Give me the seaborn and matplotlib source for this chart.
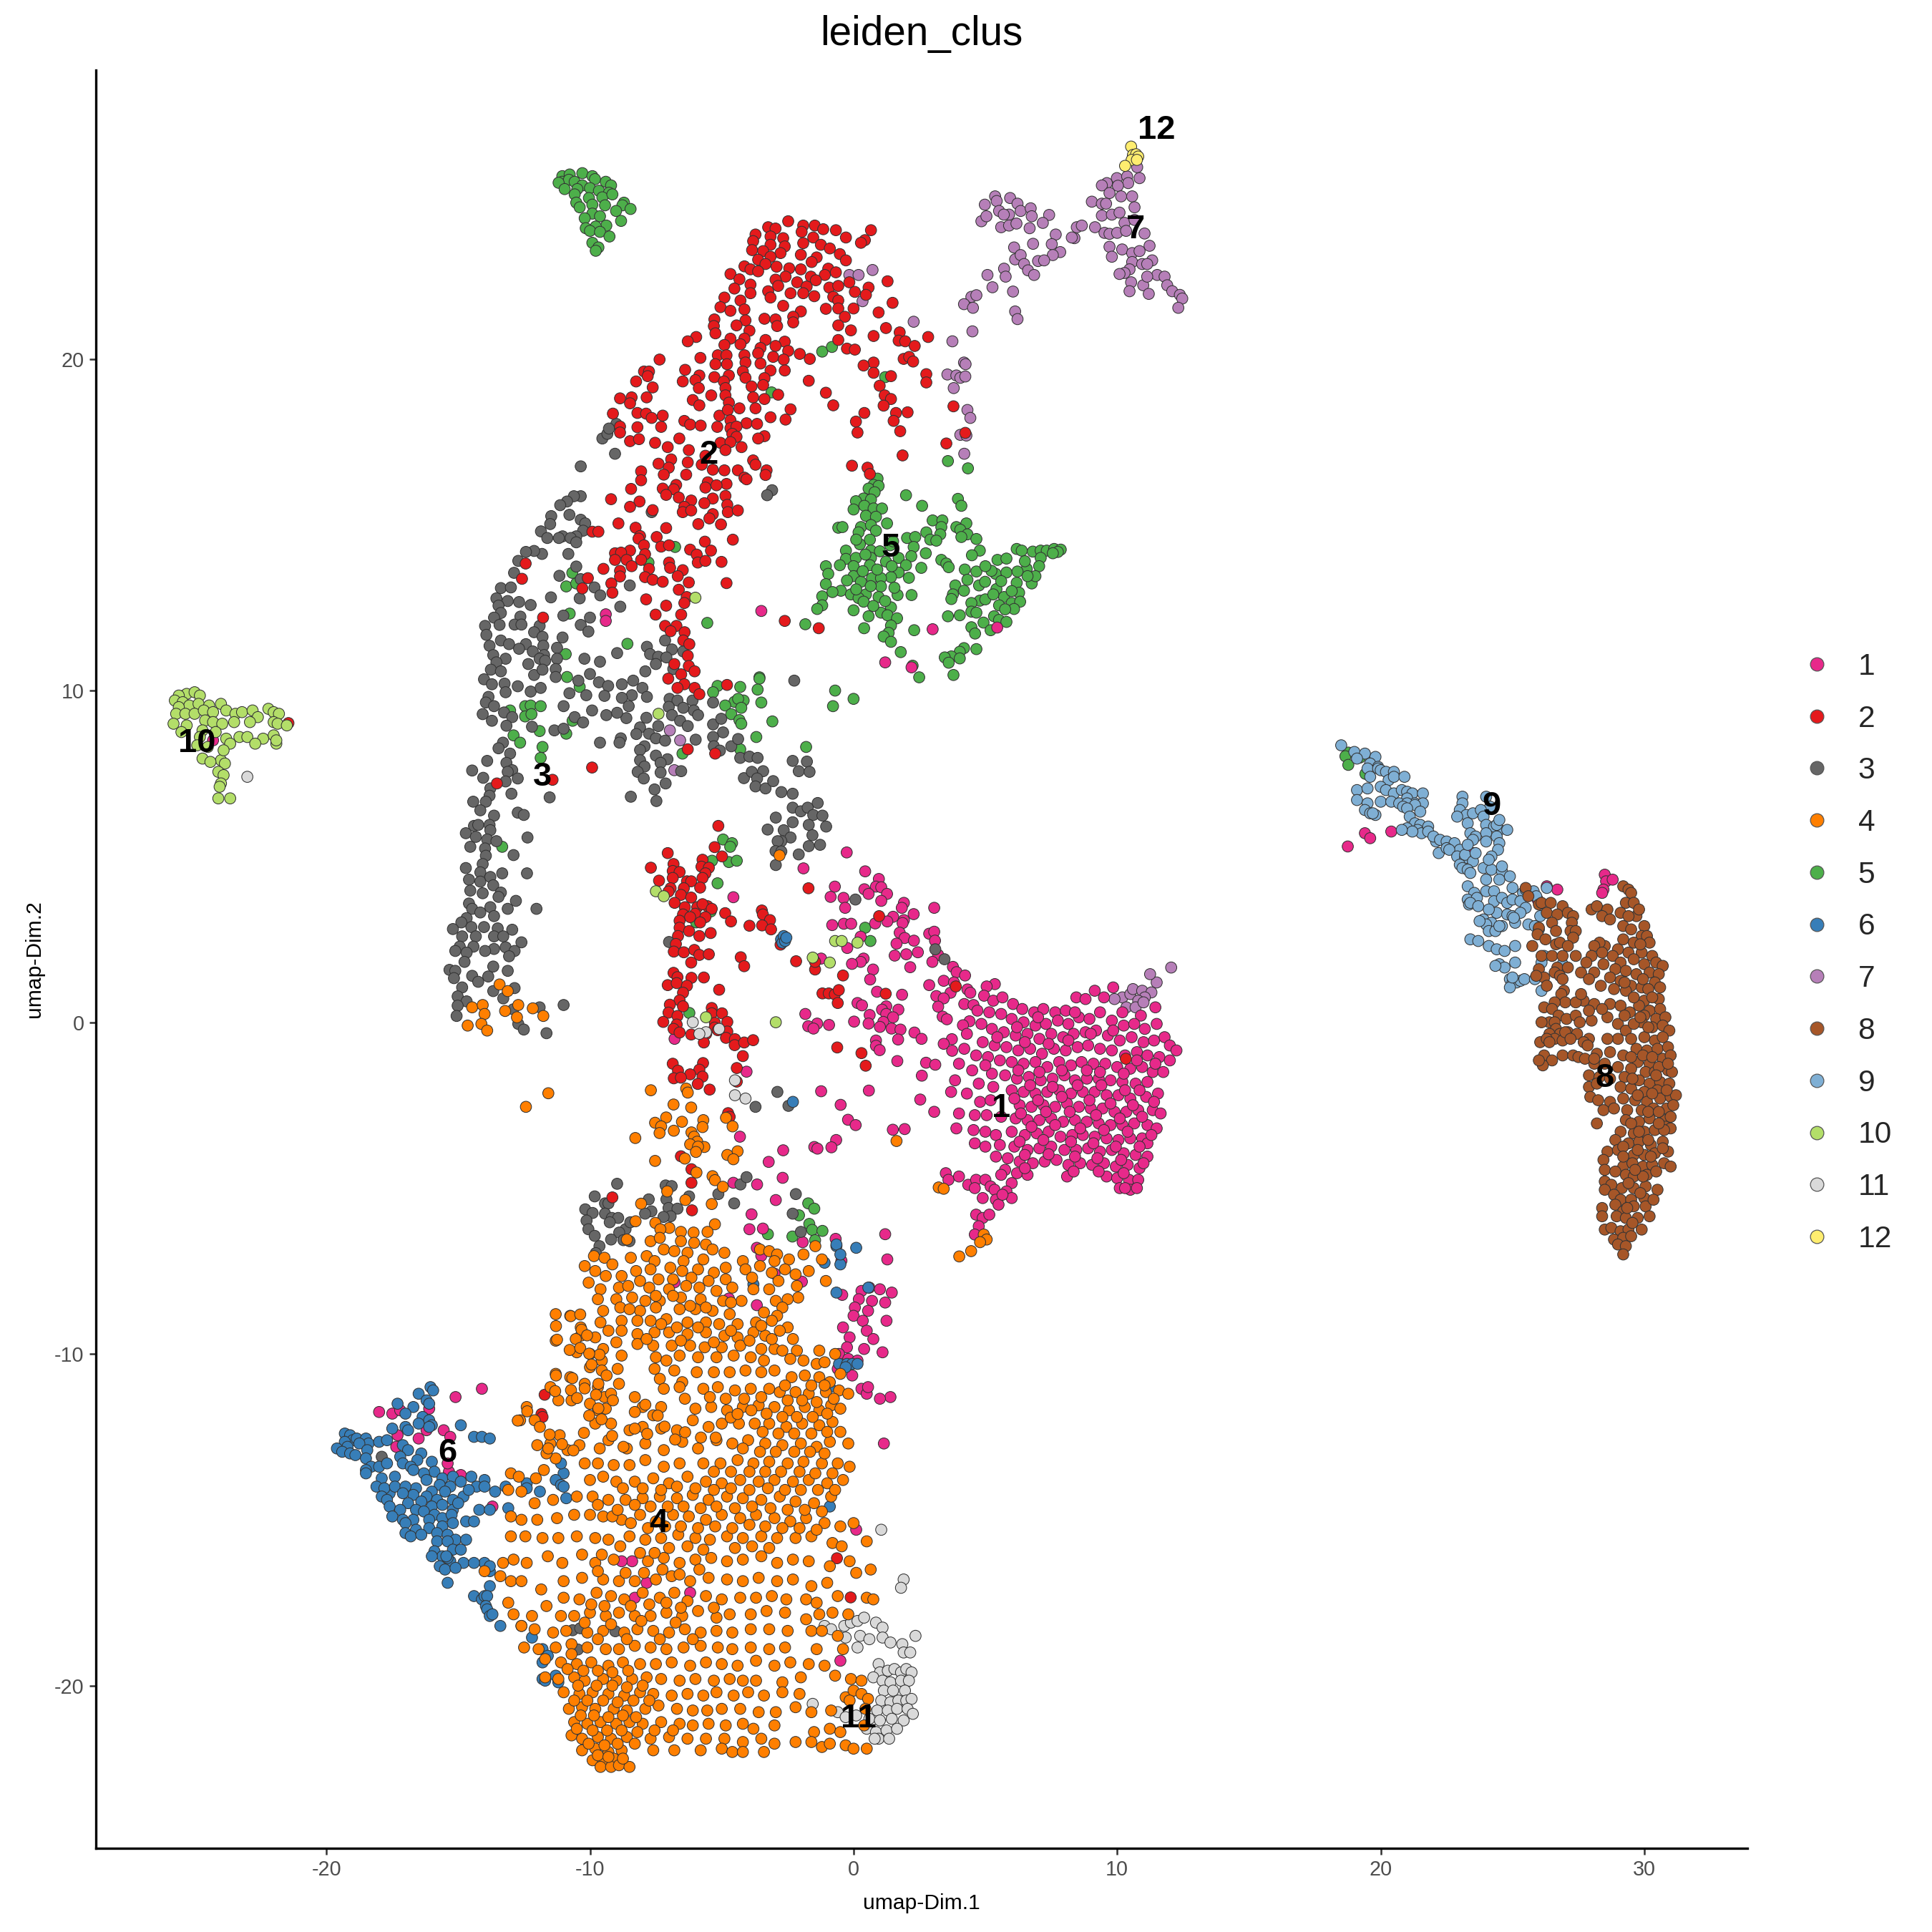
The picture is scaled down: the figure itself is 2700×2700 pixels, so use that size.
import matplotlib
matplotlib.use("Agg")
import matplotlib.pyplot as plt
import pandas as pd
import seaborn as sns

c7 = [(5.37,24.9),(5.43,24.76),(4.98,24.65),(5.94,24.85),(6.22,24.68),(5.52,24.46),(5.9,24.35),(5.7,24.35),(4.85,24.15),(5.04,24.3),(5.6,23.97),(5.9,24.02),(6.34,24.46),(6.72,24.54),(6.76,24.3),(7.42,24.34),(7.18,24.1),(6.68,23.94),(6.18,24.08),(7.67,23.75),(6.09,23.36),(6.81,23.47),(7.52,23.46),(7.84,23.22),(7.56,23.13),(6.13,23.0),(7.0,22.95),(7.23,22.97),(6.34,23.13),(6.47,22.86),(5.71,22.72),(6.62,22.67),(6.85,22.53),(5.08,22.53),(5.77,22.48),(5.27,22.16),(6.05,22.03),(4.47,21.87),(4.66,21.92),(4.19,21.65),(4.53,21.54),(6.13,21.43),(6.22,21.2),(4.51,20.83),(2.28,21.12),(3.75,20.53),(4.19,19.89),(4.25,19.84),(3.56,19.53),(3.9,19.5),(4.05,19.43),(4.24,19.47),(3.8,19.12),(4.32,18.46),(4.43,18.22),(4.05,17.71),(4.28,17.69),(4.2,17.14),(-0.16,22.53),(0.19,22.53),(0.72,22.68),(0.34,21.74),
(8.38,23.64),(8.47,23.97),(8.66,24.02),(8.28,23.66),(9.16,23.97),(9.04,24.74),(9.42,24.68),(9.61,25.3),(9.42,25.23),(9.99,25.45),(10.38,25.5),(10.76,25.78),(10.85,25.45),(10.42,25.3),(10.03,25.22),(9.71,25.0),(10.15,24.9),(10.57,24.9),(9.58,24.68),(10.66,24.57),(9.42,24.32),(9.8,24.35),(10.09,24.41),(9.52,23.8),(9.71,23.77),(10.28,24.1),(10.0,23.8),(10.34,23.86),(11.04,23.78),(10.66,24.19),(9.71,23.38),(10.19,23.3),(11.23,23.41),(9.8,23.08),(10.57,23.19),(10.85,23.25),(10.57,22.92),(10.95,22.86),(11.33,22.97),(10.47,22.7),(11.14,22.86),(10.28,22.59),(10.09,22.56),(10.53,22.31),(10.99,22.22),(11.52,22.53),(11.14,22.48),(11.8,22.48),(11.9,22.22),(10.47,22.04),(11.2,21.96),(12.09,22.04),(12.38,21.93),(12.47,21.82),(12.32,21.54),
(10.2,0.75),(10.5,0.85),(10.6,1.0),(10.95,0.95),(11.5,1.2),(12.05,1.65),(11.3,0.9),(11.25,1.45),(11.05,0.75),(10.8,0.65),(10.35,0.45),(9.9,0.7),(10.7,0.45),(11.0,0.6),(-6.97,8.8),(-6.58,8.5),(-6.8,7.6)]
c12 = [(10.53,26.4),(10.6,26.15),(10.72,26.17),(10.8,26.1),(10.55,26.0),(10.75,26.0),(10.3,25.82)]
c5 = [(-11.05,25.51),(-10.77,25.56),(-10.29,25.6),(-9.91,25.51),(-11.05,25.34),(-10.8,25.4),(-9.81,25.42),(-11.19,25.31),(-10.58,25.34),(-10.29,25.23),(-9.4,25.34),(-9.2,25.23),(-10.96,25.12),(-10.48,25.12),(-10.0,25.15),(-9.66,25.07),(-9.28,25.01),(-10.58,24.96),(-10.04,24.85),(-9.53,24.87),(-9.15,24.96),(-10.52,24.71),(-9.91,24.65),(-9.43,24.63),(-8.71,24.71),(-8.77,24.63),(-8.46,24.52),(-10.39,24.57),(-9.01,24.46),(-9.91,24.38),(-9.62,24.3),(-8.82,24.16),(-10.2,24.24),(-9.38,24.02),(-9.78,23.99),(-10.16,23.94),(-10.0,23.86),(-9.62,23.83),(-9.26,23.69),(-9.91,23.5),(-9.68,23.36),(-9.78,23.26),
(0.91,16.39),(0.76,16.2),(0.95,16.17),(0.57,16.09),(0.8,15.98),(1.99,15.89),(3.96,15.78),(0.38,15.79),(0.09,15.71),(0.66,15.76),(4.09,15.57),(2.6,15.57),(0.41,15.57),(0.0,15.46),(0.76,15.49),(1.08,15.49),(0.47,15.27),(0.85,15.24),(3.0,15.13),(3.37,15.13),(-0.58,14.91),(-0.42,14.93),(0.28,14.93),(0.66,14.99),(1.27,15.04),(4.28,15.04),(3.33,14.93),(3.9,14.93),(4.05,14.85),(0.19,14.77),(0.85,14.82),(2.76,14.77),(3.29,14.71),(4.32,14.71),(4.09,14.63),(0.62,14.55),(2.03,14.6),(2.34,14.63),(2.91,14.55),(3.14,14.52),(4.66,14.57),(0.24,14.41),(2.28,14.33),(1.39,14.38),(-0.29,14.22),(0.66,14.22),(6.19,14.27),(6.38,14.22),(4.79,14.22),(6.8,14.19),(7.1,14.22),(7.33,14.22),(7.61,14.27),(7.86,14.25),(7.75,14.18),(4.49,14.08),(2.74,14.14),(7.56,14.14),(-0.29,13.97),(0.09,14.0),(0.66,14.0),(1.71,14.0),(2.19,14.05),(7.1,14.0),(5.46,13.94),(5.8,13.98),(3.33,13.94),(3.52,13.83),(1.23,13.89),(1.99,13.78),(-0.52,13.78),(0.0,13.75),(0.62,13.78),(-1.05,13.75),(6.57,13.67),(7.04,13.75),(3.61,13.72),(2.57,13.7),(4.22,13.65),(1.71,13.56),(4.66,13.59),(5.39,13.52),(5.8,13.56),(5.23,13.61),(6.22,13.59),(-0.96,13.52),(0.0,13.45),(0.7,13.39),(1.42,13.42),(1.04,13.39),(4.32,13.34),(6.76,13.23),(-1.05,13.21),(-0.25,13.32),(0.28,13.28),(3.86,13.17),(4.76,13.17),(4.99,13.28),(1.04,13.14),(6.19,13.25),(-0.48,13.01),(-0.8,12.97),(5.42,13.06),(4.19,13.01),(6.28,12.95),(3.77,12.9),(-1.19,12.84),(-0.1,12.9),(0.47,12.9),(0.95,12.82),(1.67,12.88),(2.2,12.88),(5.71,12.82),(0.19,12.79),(0.38,12.68),(3.71,12.76),(4.79,12.71),(6.0,12.64),(6.32,12.68),(4.47,12.64),(5.52,12.57),(-1.19,12.57),(-1.38,12.46),(0.0,12.42),(1.42,12.51),(6.09,12.46),(4.47,12.38),(1.04,12.35),(1.29,12.27),(5.33,12.24),(3.58,12.24),(4.03,12.27),(0.57,12.24),(4.66,12.35),(1.65,12.18),(5.52,12.13),(5.8,12.07),(4.93,12.05),(1.42,11.96),(4.47,11.91),(0.4,11.88),(2.3,11.82),(5.2,11.82),(1.33,11.74),(4.61,11.72),(1.14,11.63),(1.42,11.47),(4.19,11.28),(4.66,11.25),(4.03,11.17),(1.79,11.16),(3.71,11.03),(3.46,11.0),(4.03,10.97),(3.61,10.84),(2.24,10.75),(3.79,10.47),(2.49,10.4),
(0.1,14.55),(0.45,14.1),(1.0,14.2),(1.5,14.5),(0.9,13.65),(0.35,13.6),(1.45,13.75),(2.1,13.4),(0.65,13.15),(1.55,13.1),(0.1,13.05),(1.2,12.7),(0.75,12.55),(5.0,13.75),(5.6,13.3),(6.0,13.0),(5.0,12.75),(5.3,12.9),(5.75,12.45),(6.5,13.9),(6.9,13.45),(6.6,13.45),
(-1.83,12.0),(-5.55,12.04),(-8.58,11.41),(-10.92,11.1),(-10.77,12.32),(-10.9,13.14),(-10.52,13.23),(-10.67,13.55),(-7.78,13.86),(-6.77,14.33),(-3.11,18.99),(1.2,19.45),(-1.19,20.22),(-0.82,20.36),(3.58,16.92),(4.34,16.7),(-3.57,10.4),(-10.87,10.41),(-10.39,10.11),(-5.16,10.14),(-5.33,9.95),(-4.3,10.11),(-3.57,10.36),(-3.64,10.03),(-3.5,9.64),(-4.52,9.66),(-4.17,9.7),(-4.87,9.55),(-4.38,9.75),(-4.26,9.48),(-4.64,9.29),(-4.33,9.11),(-4.26,9.0),(-3.08,9.07),(-3.69,8.6),(-4.3,8.23),(-1.8,8.3),(-0.7,10.0),(-0.78,9.53),(0.0,9.75),(-13.03,9.4),(-12.46,9.53),(-12.25,9.55),(-11.87,9.53),(-12.46,9.22),(-12.22,9.29),(-10.66,9.09),(-11.91,8.78),(-10.9,8.7),(-12.9,8.65),(-12.65,8.43),(-11.8,8.3),(-11.87,7.97),(-6.49,8.1),(-13.33,5.29),(-4.95,5.51),(-4.61,5.4),(-4.68,5.29),(-5.37,4.87),(-4.73,4.83),(-4.43,4.87),(-5.16,4.19),(-5.42,3.34),(-5.97,3.01),(-6.23,0.28),(0.44,2.85),(0.64,2.45),(-1.72,-5.46),(-1.49,-5.62),(-2.07,-5.82),(-1.68,-6.08),(-1.57,-6.26),(-1.18,-6.29),(-1.46,-6.57),(-2.32,-6.46),(-3.25,-6.39),(18.77,8.13),(18.66,8.02),(18.77,7.76),(19.21,7.98),(19.42,7.49)]
c1 = [(-0.26,5.12),(-1.9,4.64),(0.44,4.55),(0.96,4.32),(-0.71,4.09),(0.85,4.09),(1.05,4.07),(0.41,4.01),(0.57,3.87),(1.27,3.87),(-0.87,3.78),(-0.38,3.75),(1.05,3.66),(-4.56,3.77),(1.91,3.6),(-0.32,3.45),(1.83,3.45),(3.06,3.45),(2.28,3.26),(1.5,3.18),(1.91,3.08),(1.28,3.04),(-0.81,2.93),(-0.37,2.97),(-0.09,2.97),(0.82,2.98),(1.86,2.99),(1.75,2.7),(2.87,2.67),(3.06,2.73),(1.94,2.54),(0.27,2.58),(2.29,2.46),(3.09,2.46),(1.63,2.37),(-0.24,2.24),(1.56,2.01),(2.0,2.05),(2.44,2.11),(3.21,2.03),(-1.23,1.92),(0.38,1.92),(0.27,1.82),(-0.06,1.76),(2.99,1.82),(2.15,1.66),(3.77,1.67),(0.74,1.59),(3.91,1.51),(4.23,1.41),(0.63,1.29),(3.42,1.25),(3.81,1.2),(2.87,1.12),(4.32,0.99),(4.43,0.89),(0.89,0.92),(1.84,0.83),(3.14,0.79),(5.36,1.15),(5.05,1.08),(3.68,0.89),(3.42,0.72),(0.15,0.58),(0.32,0.51),(-1.83,0.25),(3.21,0.47),(4.2,0.55),(4.55,0.52),(1.24,0.48),(1.08,0.38),(1.7,0.38),(0.61,0.22),(1.24,0.25),(3.38,0.17),(3.54,0.09),(1.5,0.15),(0.02,0.02),(-1.38,-0.04),(-1.72,-0.12),(-1.52,-0.19),(-0.93,-0.08),(0.57,-0.04),(1.13,0.01),(4.4,0.03),(4.15,-0.09),(1.0,-0.14),(1.44,-0.19),(1.78,-0.22),(2.31,-0.31),(2.58,-0.5),(1.69,-0.52),(0.85,-0.55),(3.73,-0.51),(3.42,-0.65),(0.85,-0.71),(0.99,-0.84),(3.74,-0.86),(1.66,-1.17),(2.75,-1.22),(3.1,-1.28),(-4.06,-1.49),(2.59,-1.61),(-1.23,-2.08),(0.58,-2.06),(2.53,-2.33),(-0.49,-2.49),(3.06,-2.7),(-0.21,-2.94),(0.08,-3.1),(1.49,-3.24),(1.94,-3.22),(-4.31,-3.45),(-0.66,-3.55),(-0.84,-3.77),(-1.49,-3.76),(-1.37,-3.81),(-2.67,-3.86),(-3.22,-4.21),(-2.69,-4.69),(-3.66,-4.89),(-4.56,-4.84),(-2.95,-5.36),(-3.87,-5.79),(-3.95,-6.24),(-3.44,-6.22),(1.2,-6.39),(1.28,-7.15),(-0.46,-7.19),(-0.68,-6.53),(-1.93,-6.63),(-3.67,-6.8),(-3.5,-7.04),(-3.0,-7.58),(-1.96,-7.82),(-6.79,-7.84),(-4.73,-8.33),(-3.67,-8.53),(-0.43,-8.22),(-6.79,-0.5),
(4.95,0.8),(5.3,0.65),(5.65,0.75),(6.05,0.55),(6.4,0.4),(6.85,0.3),(7.2,0.4),(7.65,0.3),(8.05,0.35),(8.45,0.75),(8.8,0.7),(9.15,0.95),(9.5,0.75),(9.85,1.05),(10.2,0.3),(10.9,0.2),(11.45,0.45),(4.7,0.35),(5.15,0.3),(5.6,0.25),(6.0,0.1),(6.45,0.0),(6.9,-0.1),(7.3,-0.05),(7.75,0.05),(8.15,-0.05),(8.55,0.15),(8.95,0.1),(9.35,0.3),(9.8,0.05),(10.25,-0.1),(10.65,-0.05),(11.05,-0.2),(11.5,-0.05),(4.85,-0.05),(5.25,-0.2),(5.7,-0.3),(6.15,-0.4),(6.6,-0.35),(7.05,-0.5),(7.5,-0.35),(7.95,-0.45),(8.35,-0.35),(8.8,-0.3),(9.2,-0.25),(9.65,-0.4),(10.1,-0.55),(10.55,-0.45),(11.0,-0.6),(11.4,-0.55),(11.8,-0.45),(12.0,-0.7),(12.25,-0.85),(4.3,-0.35),(4.9,-0.6),(5.35,-0.7),(5.8,-0.75),(6.25,-0.85),(6.7,-0.8),(7.15,-0.95),(7.6,-0.8),(8.05,-0.85),(8.5,-0.75),(8.9,-0.7),(9.35,-0.8),(9.8,-0.85),(10.3,-1.0),(10.75,-0.9),(11.15,-1.0),(11.6,-1.05),(12.0,-1.15),(4.2,-0.8),(4.65,-1.0),(5.1,-1.05),(5.55,-1.15),(6.0,-1.2),(6.45,-1.25),(6.9,-1.2),(7.35,-1.35),(7.8,-1.2),(8.25,-1.3),(8.65,-1.2),(9.1,-1.25),(9.55,-1.25),(10.0,-1.35),(10.5,-1.4),(10.95,-1.35),(11.35,-1.5),(11.75,-1.5),(4.0,-1.25),(4.5,-1.45),(5.25,-1.55),(5.75,-1.6),(6.2,-1.7),(6.65,-1.65),(7.1,-1.75),(7.55,-1.7),(8.0,-1.6),(8.4,-1.75),(8.85,-1.7),(9.3,-1.7),(9.75,-1.75),(10.2,-1.8),(10.7,-1.85),(11.15,-1.8),(3.85,-1.75),(4.75,-1.85),(5.3,-1.95),(6.0,-2.05),(6.45,-2.1),(6.9,-2.15),(7.35,-2.1),(7.8,-2.05),(8.25,-2.15),(8.7,-2.1),(9.15,-2.1),(9.6,-2.2),(10.05,-2.2),(10.5,-2.3),(11.1,-2.25),(11.55,-2.15),(3.7,-2.1),(4.3,-2.15),(4.8,-2.4),(5.2,-2.35),(6.3,-2.5),(6.75,-2.55),(7.2,-2.5),(7.65,-2.55),(8.1,-2.45),(8.55,-2.55),(9.0,-2.6),(9.45,-2.6),(9.9,-2.7),(10.35,-2.7),(10.8,-2.65),(11.35,-2.65),(11.65,-2.75),(4.0,-2.75),(4.6,-2.8),(5.05,-2.8),(5.6,-2.85),(6.15,-2.9),(6.6,-2.95),(7.05,-2.95),(7.5,-2.9),(7.95,-3.0),(8.4,-2.95),(8.85,-3.0),(9.3,-3.05),(9.75,-3.1),(10.2,-3.1),(10.65,-3.05),(11.15,-3.1),(11.5,-3.2),(3.9,-3.2),(4.55,-3.25),(5.0,-3.3),(5.4,-3.4),(6.0,-3.3),(6.5,-3.4),(6.95,-3.35),(7.4,-3.3),(7.85,-3.45),(8.3,-3.4),(8.7,-3.4),(9.15,-3.45),(9.6,-3.5),(10.05,-3.55),(10.5,-3.5),(10.95,-3.5),(11.15,-3.65),(4.6,-3.65),(5.0,-3.75),(5.55,-3.7),(6.1,-3.75),(6.6,-3.85),(7.05,-3.8),(7.5,-3.75),(8.0,-3.85),(8.45,-3.85),(8.9,-3.8),(9.35,-3.9),(9.8,-3.85),(10.25,-3.95),(10.7,-4.0),(11.15,-4.05),(5.85,-4.1),(6.3,-4.2),(6.8,-4.25),(7.25,-4.2),(7.7,-4.15),(8.15,-4.3),(8.6,-4.25),(9.05,-4.3),(9.5,-4.25),(9.95,-4.35),(10.4,-4.3),(10.85,-4.4),(5.75,-4.45),(6.2,-4.55),(6.6,-4.6),(8.1,-4.65),(9.6,-4.65),(10.0,-4.7),(10.45,-4.75),(10.8,-4.75),(3.5,-4.55),(3.6,-4.75),(4.0,-4.65),(4.35,-4.9),(4.65,-4.75),(5.0,-4.75),(5.2,-4.95),(5.6,-4.6),(6.0,-4.85),(10.1,-5.0),(10.5,-5.05),(10.75,-5.0),(4.6,-5.0),(5.35,-5.05),(5.8,-5.1),(6.0,-5.3),(5.4,-5.35),(5.5,-5.5),(4.65,-5.8),(4.9,-5.9),(5.15,-5.8),(4.75,-6.15),(4.6,-6.4),
(6.2,-0.15),(7.0,0.15),(8.4,0.3),(9.0,-0.35),(9.85,-0.25),(7.4,-0.65),(8.15,-0.55),(6.5,-0.6),(5.45,-0.45),(5.0,-1.3),(6.25,-1.45),(7.05,-1.5),(7.9,-1.45),(8.85,-1.45),(9.35,-1.5),(10.25,-1.55),(10.75,-1.15),(11.45,-1.25),(6.7,-1.9),(7.55,-1.95),(8.5,-1.9),(9.4,-1.9),(10.3,-2.05),(10.85,-2.05),(6.1,-2.3),(7.0,-2.35),(7.9,-2.25),(8.95,-2.35),(9.75,-2.45),(10.6,-2.5),(11.4,-2.4),(6.35,-2.75),(7.3,-2.7),(8.2,-2.7),(9.2,-2.8),(10.1,-2.9),(10.95,-2.85),(6.75,-3.15),(7.65,-3.1),(8.6,-3.2),(9.5,-3.25),(10.4,-3.3),(11.3,-3.4),(6.3,-3.6),(7.2,-3.55),(8.25,-3.6),(9.1,-3.65),(9.95,-3.75),(10.85,-3.75),(5.4,-4.05),(6.5,-4.0),(7.4,-3.98),(8.4,-4.05),(9.25,-4.1),(10.15,-4.15),(11.0,-4.25),(6.5,-4.4),(8.35,-4.5),(9.3,-4.5),(10.25,-4.55),(5.65,-5.2),(10.3,-5.0),(4.9,-5.3),
(0.3,-8.1),(0.6,-8.0),(1.0,-8.05),(1.45,-8.15),(0.2,-8.35),(0.7,-8.4),(1.2,-8.45),(0.05,-8.6),(0.55,-8.7),(0.0,-8.85),(0.35,-9.0),(1.25,-9.0),(-0.4,-9.2),(0.5,-9.3),(-0.15,-9.5),(0.75,-9.55),(-0.25,-9.8),(0.4,-9.85),(1.1,-9.95),(-0.55,-10.0),(-0.2,-10.15),(0.15,-10.2),(-0.6,-10.45),(-0.05,-10.65),(0.3,-11.05),(0.5,-11.2),(1.4,-11.3),(0.55,-11.0),(1.0,-11.35),(1.15,-12.7),(-18.0,-11.75),(-17.5,-11.8),(-17.2,-11.7),(-16.2,-12.3),(-15.1,-11.3),(-16.1,-11.65),(-14.1,-11.05),(-15.55,-12.3),(-15.3,-12.5),(-17.3,-12.45),(-16.5,-12.55),(-17.35,-12.8),(-15.35,-13.55),(-14.9,-13.65),(-15.4,-13.3),(-13.7,-14.6),(0.1,-15.3),(-8.4,-16.25),(-8.8,-16.25),(-7.85,-16.9),(-6.2,-17.2),(-8.3,-17.35),(-0.5,-19.25),(23.5,5.1),(19.4,5.7),(19.6,5.55),(18.75,5.3),(20.4,5.75),(26.7,4.0),(25.95,3.7),(26.3,4.1),(28.5,4.45),(28.55,4.25),(28.8,4.3),(28.45,4.0),(28.4,3.9),(-25.4,9.85),(-24.3,8.5),(-9.4,12.3),(-9.4,12.1),(-3.5,12.4),(3.0,11.85),(1.2,10.85),(2.2,10.7),(5.45,11.9)]
c3 = [(-10.35,15.86),(-10.61,15.86),(-10.87,15.7),(-11.13,15.59),(-10.78,15.3),(-11.47,15.26),(-11.51,15.02),(-10.35,15.15),(-10.18,15.04),(-11.86,14.8),(-11.62,14.6),(-10.26,14.82),(-10.52,14.65),(-11.04,14.65),(-11.18,14.6),(-10.73,14.6),(-10.52,14.47),(-10.82,14.12),(-11.82,14.12),(-12.12,14.21),(-12.43,14.18),(-12.72,13.91),(-12.88,13.55),(-10.52,13.74),(-11.16,13.46),(-10.35,13.36),(-9.83,13.11),(-8.49,13.17),(-9.61,12.87),(-10.39,12.78),(-11.48,12.81),(-8.85,12.53),(-13.38,13.09),(-13.0,13.11),(-13.55,12.78),(-13.12,12.7),(-12.69,12.67),(-13.47,12.56),(-12.25,12.58),(-13.38,12.34),(-12.64,12.23),(-13.64,12.2),(-13.98,11.95),(-13.43,11.98),(-12.86,11.99),(-12.6,11.99),(-11.91,11.95),(-11.01,12.26),(-10.0,12.2),(-10.35,11.98),(-10.06,11.78),(-13.93,11.68),(-13.38,11.51),(-12.12,11.76),(-11.8,11.62),(-11.04,11.6),(-13.81,11.35),(-13.07,11.4),(-12.43,11.4),(-12.69,11.26),(-11.77,11.35),(-11.25,11.29),(-13.67,11.07),(-13.2,10.96),(-11.74,11.07),(-12.17,11.18),(-11.91,10.96),(-11.25,10.96),(-10.21,10.96),(-9.62,10.87),(-8.97,11.13),(-7.84,11.32),(-7.72,11.1),(-7.41,11.02),(-7.15,11.51),(-6.89,11.24),(-6.46,11.18),(-7.1,11.0),(-7.5,10.8),(-6.84,10.65),(-7.9,10.58),(-13.55,10.85),(-13.76,10.63),(-13.38,10.58),(-12.34,10.8),(-11.7,10.9),(-11.3,10.65),(-12.12,10.47),(-11.8,10.63),(-11.3,10.41),(-14.02,10.34),(-13.72,10.19),(-13.24,10.21),(-12.74,10.13),(-12.25,9.97),(-11.87,10.08),(-13.2,9.95),(-13.85,9.81),(-13.95,9.64),(-13.64,9.53),(-14.07,9.29),(-13.72,9.09),(-13.26,9.34),(-12.95,9.2),(-13.17,8.94),(-12.2,8.91),(-11.35,8.8),(-11.0,8.85),(-10.58,9.2),(-10.26,9.04),(-11.0,9.53),(-10.78,9.92),(-10.44,10.3),(-10.0,10.5),(-9.66,10.25),(-9.31,10.14),(-8.79,10.19),(-8.36,10.3),(-8.01,10.08),(-8.41,9.86),(-10.14,9.86),(-9.45,9.84),(-8.79,9.78),(-7.84,9.81),(-8.53,9.53),(-9.92,9.4),(-9.38,9.26),(-8.62,9.17),(-8.97,9.33),(-7.86,9.18),(-6.98,9.75),(-6.68,9.7),(-7.01,9.51),(-6.11,9.7),(-6.06,9.4),(-5.9,9.26),(-6.46,9.48),(-6.89,9.26),(-6.58,9.09),(-7.41,8.93),(-8.1,8.89),(-6.29,8.93),(-8.24,8.69),(-7.76,8.7),(-7.5,8.56),(-7.15,8.49),(-5.99,8.52),(-8.83,8.56),(-8.88,8.43),(-9.62,8.43),(-7.93,8.32),(-8.1,8.21),(-7.5,8.04),(-8.1,7.9),(-7.06,7.93),(-7.93,7.71),(-7.32,7.82),(-8.19,7.55),(-7.96,7.35),(-7.32,7.53),(-6.54,7.57),(-7.13,7.2),(-7.55,7.02),(-7.48,6.67),(-8.45,6.8),(-5.33,9.64),(-5.33,8.98),(-5.02,9.15),(-4.95,8.74),(-5.33,8.6),(-5.3,8.32),(-5.07,8.19),(-4.64,8.32),(-4.38,8.54),(-4.3,7.97),(-3.95,8.01),(-3.64,7.97),(-2.25,10.3),(-2.31,7.88),(-1.77,7.86),(-2.08,7.57),(-1.67,7.55),(-4.16,7.36),(-3.86,7.55),(-3.43,7.57),(-3.66,7.35),(-3.72,7.11),(-3.34,7.05),(-3.05,7.27),(-2.74,6.94),(-2.31,6.89),(-2.31,6.47),(-2.0,6.36),(-1.36,6.61),(-1.74,6.47),(-1.53,6.25),(-1.18,6.23),(-2.95,6.17),(-2.31,6.03),(-1.7,5.95),(-1.04,5.9),(-3.26,5.81),(-2.65,5.79),(-1.56,5.64),(-2.39,5.57),(-2.74,5.46),(-2.88,5.46),(-1.27,5.35),(-1.7,5.31),(-2.96,5.16),(-2.74,5.15),(-2.08,5.06),(-2.95,4.74),
(-13.3,8.43),(-13.47,8.26),(-13.03,8.1),(-13.9,7.88),(-13.17,7.82),(-14.47,7.59),(-12.95,7.6),(-13.12,7.55),(-14.05,7.37),(-12.74,7.35),(-13.2,7.26),(-11.53,6.78),(-12.98,6.89),(-13.78,7.05),(-13.81,6.83),(-14.43,6.65),(-13.95,6.65),(-14.16,6.39),(-12.74,6.32),(-12.51,6.25),(-13.64,6.23),(-14.4,5.92),(-14.24,5.95),(-13.81,5.95),(-13.78,5.79),(-14.71,5.7),(-14.33,5.59),(-13.9,5.51),(-13.55,5.46),(-12.37,5.57),(-14.54,5.29),(-13.98,5.24),(-12.9,5.04),(-13.95,5.02),(-14.07,4.77),(-14.71,4.65),(-14.16,4.52),(-13.33,4.49),(-12.39,4.49),(-14.59,4.3),(-14.16,4.24),(-13.78,4.38),(-14.54,3.97),(-14.07,3.89),(-13.67,4.13),(-13.38,3.91),(-13.47,3.78),(-12.81,3.66),(-14.59,3.58),(-13.78,3.47),(-13.12,3.42),(-12.03,3.42),(-14.47,3.42),(-14.68,3.14),(-14.16,3.31),(-13.64,3.2),(-14.88,3.01),(-14.5,2.87),(-14.02,2.87),(-13.5,2.83),(-12.95,2.79),(-15.2,2.81),(-14.85,2.59),(-14.33,2.59),(-13.64,2.59),(-13.29,2.59),(-12.6,2.41),(-14.94,2.28),(-15.11,2.15),(-14.42,2.28),(-13.64,2.21),(-13.2,2.26),(-12.86,2.15),(-14.68,2.1),(-13.98,2.15),(-13.07,1.99),(-14.76,1.82),(-15.33,1.58),(-15.11,1.55),(-13.67,1.68),(-13.12,1.55),(-15.16,1.33),(-14.47,1.4),(-13.86,1.38),(-14.24,1.22),(-14.85,1.05),(-12.86,1.03),(-13.67,0.94),(-15.02,0.78),(-13.29,0.72),(-14.68,0.63),(-15.02,0.5),(-12.91,0.39),(-11.91,0.45),(-11.0,0.52),(-15.06,0.19),(-12.72,-0.05),(-12.51,-0.22),(-11.65,-0.33),
(-8.97,-4.87),(-9.82,-5.25),(-10.18,-5.64),(-9.43,-5.46),(-9.3,-5.46),(-9.9,-5.75),(-9.43,-5.77),(-9.17,-5.9),(-8.93,-5.9),(-10.13,-5.98),(-10.06,-6.24),(-9.82,-6.44),(-9.25,-6.03),(-8.65,-6.24),(-8.89,-6.34),(-9.2,-6.55),(-8.73,-6.57),(-8.5,-6.6),(-9.64,-6.75),(-9.78,-6.96),(-7.13,-4.92),(-6.9,-4.94),(-7.77,-5.34),(-7.1,-5.34),(-6.24,-5.25),(-7.67,-5.7),(-7.91,-5.77),(-7.02,-5.6),(-6.68,-5.62),(-6.94,-5.85),(-7.21,-5.87),(-4.53,-5.46),(-5.13,-5.18),(-4.29,-4.89),(-4.06,-4.67),(-2.31,-5.77),(-2.19,-5.18),(-2.0,-6.32),(-8.47,-6.03),(3.1,2.2),(3.45,1.9),(0.07,3.7),(-7.0,2.42),(-2.89,-2.1),(-2.47,-2.52),(-3.72,-2.55),(-9.05,17.14),(-10.35,16.76),(-9.53,17.6),(-9.34,17.74),(-9.0,18.04),(-9.28,17.9),(-3.09,16.04),(-3.28,15.89),(-7.66,15.38),(-10.66,-18.33),(-10.37,-18.27),(-9.04,-18.36),(-10.46,-18.91),(-17.9,-13.1)]
c2 = [(-2.48,24.15),(-3.24,23.97),(-2.96,23.93),(-1.91,24.02),(-1.47,24.02),(-1.15,23.91),(-0.67,23.88),(0.66,23.88),(-3.72,23.75),(-3.15,23.69),(-2.67,23.64),(-1.97,23.83),(-1.53,23.66),(-0.29,23.66),(0.43,23.58),(0.28,23.5),(-3.81,23.55),(-3.15,23.44),(-2.61,23.39),(-1.91,23.49),(-1.24,23.44),(-3.85,23.28),(-3.43,23.25),(-2.77,23.19),(-0.9,23.33),(-2.0,23.14),(-0.52,23.16),(-3.62,22.99),(-3.15,23.08),(-1.4,23.06),(-0.29,22.97),(-4.14,22.79),(-3.34,22.86),(-2.92,22.78),(-2.44,22.73),(-2.0,22.7),(-1.59,22.92),(-0.96,22.72),(-0.67,22.61),(-3.91,22.7),(-4.67,22.56),(-3.62,22.64),(-2.58,22.48),(-1.62,22.48),(-1.09,22.53),(-0.16,22.31),(1.29,22.34),(-4.33,22.4),(-2.96,22.39),(-2.14,22.31),(-1.43,22.37),(-4.52,22.12),(-3.91,22.24),(-2.86,22.2),(-1.78,22.18),(-0.92,22.15),(-0.58,22.2),(0.57,22.15),(-3.91,21.98),(-3.24,22.04),(-2.39,21.98),(-1.49,21.89),(-0.77,21.87),(0.05,22.02),(0.47,21.93),(-4.9,21.85),(-4.29,21.76),(-3.15,21.85),(-1.91,21.98),(-0.58,21.76),(1.48,21.69),(-5.05,21.56),(-4.67,21.45),(-4.14,21.49),(-2.67,21.6),(-1.05,21.51),(-0.58,21.52),(0.0,21.52),(-2.0,21.43),(0.95,21.4),(-5.28,21.19),(-4.1,21.16),(-3.38,21.21),(-2.96,21.19),(-2.29,21.27),(-0.33,21.27),(-5.3,20.99),(-4.44,21.01),(-2.9,20.99),(-2.29,21.1),(-0.58,21.01),(-0.1,20.86),(1.23,20.93),(1.75,20.8),(-5.24,20.77),(-3.95,20.85),(0.76,20.69),(2.83,20.66),(-5.97,20.66),(-6.29,20.53),(-4.67,20.61),(-4.14,20.61),(-3.34,20.57),(-2.61,20.52),(-0.58,20.57),(1.71,20.55),(1.96,20.53),(-4.9,20.42),(-4.29,20.44),(-3.53,20.33),(-2.96,20.39),(-0.25,20.31),(0.05,20.28),(2.32,20.39),(-5.15,20.11),(-4.82,20.11),(-4.14,20.11),(-3.62,20.17),(-3.05,20.06),(-2.04,20.15),(-2.48,20.24),(-5.81,20.03),(-7.36,19.98),(-1.66,20.0),(-2.65,19.98),(1.9,20.0),(2.11,20.06),(2.26,19.92),(0.76,19.89),(-5.24,19.84),(-4.8,19.84),(-4.1,19.89),(-3.53,19.86),(0.38,19.8),(-6.39,19.67),(-4.2,19.62),(-3.15,19.65),(-2.61,19.65),(-7.95,19.62),(-7.76,19.62),(0.76,19.58),(2.76,19.54),(-7.81,19.48),(-5.85,19.5),(-5.28,19.45),(-4.73,19.5),(-4.1,19.43),(-3.38,19.42),(1.42,19.48),(-8.25,19.32),(-6.48,19.32),(-6.0,19.36),(-4.92,19.32),(-1.7,19.34),(2.76,19.29),(-7.62,19.14),(-5.87,19.12),(-4.86,19.12),(-3.87,19.17),(-3.43,19.21),(0.99,19.19),(-1.05,18.98),(-5.4,18.9),(-4.86,18.9),(-3.81,18.84),(-2.86,18.92),(-8.86,18.81),(-8.42,18.84),(-7.85,18.84),(1.18,18.9),(-6.1,18.76),(-4.73,18.68),(-3.38,18.79),(-8.48,18.66),(-5.85,18.6),(-4.33,18.51),(-3.72,18.51),(-0.77,18.6),(-2.39,18.48),(1.42,18.79),(1.14,18.59),(-8.2,18.37),(-7.87,18.35),(-9.13,18.35),(-7.24,18.29),(-5.09,18.29),(-4.77,18.46),(0.41,18.37),(1.61,18.37),(2.05,18.39),(3.79,18.57),(-7.66,18.22),(-3.15,18.24),(-2.58,18.17),(1.52,18.13),(-6.42,18.13),(-4.67,18.15),(-4.06,18.06),(-3.66,18.04),(0.09,18.11),(-8.86,17.96),(-8.2,17.94),(-7.3,17.95),(-6.2,18.02),(-5.8,17.99),(-5.17,17.95),(-4.67,17.91),(-4.44,17.96),(-8.86,17.78),(-4.6,17.74),(0.15,17.78),(1.77,17.82),(4.24,17.77),(-4.44,17.65),(-3.38,17.67),(-3.62,17.6),(-8.48,17.52),(-8.14,17.58),(-6.61,17.6),(-7.53,17.47),(-5.05,17.47),(-4.67,17.49),(-7.05,17.34),(-4.25,17.34),(3.52,17.45),(-6.25,17.25),(-4.86,17.25),(1.86,17.09),(-5.62,17.08),(-3.81,16.94),(-6.92,16.97),(-7.4,16.84),(-6.29,16.88),(-3.72,16.81),(-0.06,16.78),(0.53,16.72),(0.62,16.53),(-5.76,16.81),(-7.01,16.72),(-5.34,16.66),(-4.9,16.64),(-4.39,16.64),(-3.3,16.64),(-8.06,16.61),(-7.2,16.51),(-6.35,16.51),(-3.34,16.5),(-4.14,16.42),(-8.06,16.34),(-4.06,16.37),(-5.53,16.28),(-4.82,16.23),(-6.73,16.2),(-7.24,16.09),(-6.82,16.07),(-8.44,16.08),(-5.62,16.12),(-5.2,16.19),(-7.11,15.9),(-4.86,15.87),(-9.2,15.77),(-6.63,15.82),(-6.16,15.73),(-5.34,15.79),(-5.66,15.65),(-8.12,15.7),(-8.48,15.54),(-4.79,15.6),(-6.42,15.54),(-7.62,15.44),(-4.77,15.38),(-4.39,15.43),(-6.48,15.38),(-6.16,15.43),(-5.34,15.32),(-5.47,15.19),(-8.92,15.04),(-5.89,15.02),(-5.03,15.01),(-8.27,14.91),(-7.11,14.9),(-9.91,14.79),(-9.68,14.79),(-8.1,14.66),(-7.47,14.63),(-4.58,14.55),(-5.64,14.49),(-8.16,14.58),(-7.95,14.38),(-7.3,14.34),(-7.0,14.38),(-6.2,14.25),(-5.41,14.22),(-8.48,14.22),(-9.05,14.14),(-8.82,14.16),(-7.91,14.11),(-5.95,14.1),(-12.44,13.83),(-9.05,13.94),(-8.61,13.94),(-8.06,13.94),(-7.0,13.86),(-5.01,13.88),(-5.91,13.86),(-5.62,13.91),(-8.42,13.75),(-9.49,13.67),(-8.86,13.61),(-7.76,13.67),(-6.48,13.63),(-6.96,13.7),(-10.08,13.39),(-12.58,13.37),(-8.86,13.44),(-7.91,13.42),(-7.62,13.34),(-6.67,13.45),(-7.24,13.28),(-6.25,13.26),(-4.82,13.24),(-10.29,13.08),(-9.19,13.23),(-6.63,13.04),(-9.15,12.95),(-6.33,12.82),(-7.87,12.75),(-6.42,12.64),(-7.11,12.56),(-2.61,12.1),(-1.32,11.88),(-11.78,12.2),(-7.51,12.29),(-6.54,12.29),
(-7.15,11.95),(-6.72,11.95),(-6.94,11.79),(-6.41,11.76),(-6.46,11.51),(-6.23,11.4),(-6.29,11.05),(-6.8,10.8),(-6.25,10.74),(-6.03,10.58),(-6.54,10.49),(-7.03,10.36),(-6.42,10.19),(-6.68,10.08),(-6.03,10.08),(-5.85,9.89),(-4.8,10.17),(-9.92,7.68),(-11.42,7.31),(-13.53,7.2),(-5.25,8.1),(-6.29,8.23),
(-5.13,5.92),(-5.27,5.28),(-4.99,5.0),(-7.05,5.1),(-7.69,4.66),(-6.83,4.77),(-5.73,4.9),(-5.77,4.69),(-5.49,4.66),(-6.86,4.56),(-6.6,4.53),(-5.62,4.49),(-5.73,4.35),(-6.86,4.35),(-7.38,4.27),(-6.32,4.25),(-6.16,4.25),(-5.82,4.06),(-6.94,4.04),(-6.44,4.04),(-7.02,3.94),(-6.55,3.84),(-6.16,3.76),(-6.79,3.6),(-6.4,3.47),(-5.93,3.47),(-5.54,3.5),(-5.73,3.56),(-5.38,3.42),(-6.47,3.25),(-6.01,3.27),(-5.62,3.17),(-6.2,3.17),(-6.6,3.06),(-5.82,3.01),(-6.6,2.85),(-6.24,2.75),(-6.66,2.6),(-5.85,2.6),(-5.42,2.69),(-6.74,2.36),(-6.82,2.13),(-6.44,2.11),(-6.04,2.18),(-5.85,2.03),(-5.49,2.05),(-6.16,1.8),(-4.87,3.29),(-4.65,3.04),(-3.95,2.91),(-3.48,3.37),(-3.44,3.25),(-3.17,3.08),(-3.47,2.92),(-3.13,2.8),(-2.77,2.34),(-1.71,4.04),(0.97,3.2),(-4.28,1.96),(-4.15,1.69),(-2.18,1.84),(-1.46,1.59),(-1.46,1.82),(-0.4,1.41),(-1.18,0.87),(-0.94,0.87),(-0.71,0.84),(-0.56,0.97),(-0.6,0.58),(1.22,0.86),(3.88,1.08),(-6.83,1.49),(-6.68,1.36),(-6.15,1.34),(-5.68,1.35),(-7.05,1.12),(-6.71,1.18),(-6.32,1.1),(-5.1,0.98),(-6.47,0.89),(-6.6,0.66),(-6.97,0.53),(-6.47,0.48),(-7.02,0.29),(-6.68,0.19),(-5.38,0.43),(-5.38,0.27),(-4.99,0.27),(-7.22,0.01),(-6.71,-0.07),(-4.79,0.01),(-5.26,-0.02),(-5.27,-0.16),(-5.15,-0.24),(-6.83,-0.2),(-6.6,-0.31),(-6.16,-0.37),(-5.59,-0.35),(-4.79,-0.28),(-4.84,-0.47),(-4.5,-0.51),(-5.68,-0.61),(-4.51,-0.69),(-4.15,-0.61),(-3.81,-0.54),(-0.62,-0.76),(0.3,-0.93),(0.46,-1.31),(-4.2,-1.02),(-6.86,-1.25),(-5.71,-1.23),(-4.43,-1.38),(-6.66,-1.46),(-5.85,-1.43),(-6.2,-1.57),(-6.82,-1.69),(-6.55,-1.67),(-5.73,-1.64),(-4.43,-1.79),(-5.91,-1.86),(-5.46,-2.03),(-4.76,-2.74),(-4.7,-2.85),(-6.55,-4.04),(-6.15,-4.43),(-6.15,-4.84),(-9.15,-5.28),(-6.13,-5.67),(10.33,-1.1),(-11.72,-11.23),(-11.84,-11.81),(-11.8,-11.9),(-0.63,-16.16),(-0.11,-17.34),(-21.44,9.02)]
c10 = [(-25.3,9.9),(-25.6,9.85),(-25.75,9.7),(-25.45,9.65),(-25.0,9.95),(-24.8,9.85),(-25.2,9.55),(-25.6,9.5),(-24.85,9.6),(-24.45,9.55),(-24.0,9.6),(-25.7,9.3),(-25.35,9.3),(-25.0,9.3),(-24.65,9.4),(-24.3,9.35),(-23.8,9.4),(-23.45,9.3),(-23.2,9.35),(-22.8,9.4),(-22.6,9.2),(-22.2,9.45),(-22.0,9.35),(-21.8,9.3),(-25.8,9.0),(-25.3,8.95),(-24.6,9.1),(-24.3,9.05),(-23.95,9.0),(-23.5,9.05),(-22.9,9.05),(-22.0,9.05),(-21.85,9.0),(-21.5,8.95),(-25.5,8.75),(-24.7,8.8),(-24.2,8.75),(-24.8,8.6),(-23.8,8.55),(-22.4,8.55),(-22.0,8.65),(-21.9,8.4),(-23.3,8.6),(-23.0,8.6),(-22.7,8.4),(-23.65,8.4),(-24.9,8.35),(-24.5,8.3),(-24.0,7.9),(-23.9,8.2),(-24.7,7.95),(-24.4,7.85),(-23.85,7.8),(-24.1,7.55),(-23.9,7.45),(-24.0,7.2),(-24.05,7.1),(-24.1,6.75),(-23.65,6.75),(-21.9,8.5),(-6.0,12.8),(-7.4,9.3),(-5.6,0.15),(-2.95,-0.0),(-7.5,3.95),(-7.2,3.8),(-0.7,2.45),(-0.45,2.45),(0.15,2.4),(-1.55,1.95),(-0.9,1.8)]
c11 = [(-23.0,7.4),(-6.1,0.0),(-5.6,-0.3),(-5.85,-0.35),(-5.1,-0.2),(-4.5,-1.75),(-4.5,-2.2),(-4.1,-2.3),(1.05,-15.3),(1.9,-16.8),(1.8,-17.05),(-1.1,-18.2),(-0.85,-18.3),(-0.35,-18.2),(-0.1,-18.1),(0.15,-18.05),(0.4,-17.95),(-0.3,-18.55),(0.25,-18.5),(0.85,-18.1),(1.1,-18.25),(0.15,-18.85),(0.6,-18.6),(1.1,-18.55),(1.4,-18.7),(1.85,-18.75),(2.35,-18.5),(1.9,-19.0),(2.15,-19.0),(0.95,-19.35),(1.0,-19.6),(1.3,-19.55),(1.55,-19.5),(1.8,-19.6),(2.0,-19.5),(2.2,-19.6),(0.75,-19.75),(1.1,-19.85),(1.4,-19.9),(1.8,-19.85),(2.1,-19.85),(1.15,-20.15),(1.5,-20.15),(1.95,-20.15),(1.05,-20.45),(1.4,-20.5),(1.7,-20.45),(2.0,-20.45),(2.2,-20.4),(0.9,-20.75),(1.3,-20.75),(1.65,-20.7),(2.05,-20.7),(2.25,-20.85),(0.6,-21.0),(1.0,-21.05),(1.45,-21.0),(1.9,-21.05),(0.5,-21.3),(0.85,-21.4),(1.25,-21.35),(1.65,-21.3),(0.95,-21.6),(1.35,-21.6),(0.8,-21.6),(-1.55,-20.55),(-0.6,-20.8),(-0.3,-20.95),(0.1,-20.9)]
c6 = [(-16.05,-11.0),(-15.95,-11.1),(-16.5,-11.2),(-16.2,-11.4),(-16.1,-11.5),(-17.3,-11.5),(-16.7,-11.6),(-17.0,-11.8),(-16.35,-11.9),(-16.1,-12.0),(-16.0,-12.15),(-17.0,-12.2),(-16.5,-12.1),(-16.1,-12.2),(-14.9,-12.15),(-17.5,-12.25),(-16.9,-12.3),(-14.4,-12.5),(-14.1,-12.5),(-13.8,-12.55),(-19.3,-12.4),(-19.1,-12.45),(-19.0,-12.6),(-18.85,-12.55),(-18.5,-12.55),(-18.4,-12.7),(-19.3,-12.65),(-19.2,-12.8),(-18.75,-12.7),(-18.45,-12.9),(-19.6,-12.85),(-19.4,-12.95),(-19.1,-13.0),(-18.9,-13.05),(-18.5,-13.15),(-18.0,-12.65),(-17.7,-12.6),(-17.1,-12.75),(-16.9,-12.9),(-16.4,-13.0),(-17.2,-13.1),(-16.55,-13.2),(-17.1,-13.3),(-16.8,-13.4),(-16.0,-13.25),(-15.9,-13.55),(-16.3,-13.6),(-18.3,-13.4),(-18.0,-13.4),(-17.7,-13.3),(-18.5,-13.5),(-16.7,-13.5),(-16.2,-13.8),(-15.6,-13.75),(-15.2,-13.7),(-15.7,-13.95),(-15.3,-14.0),(-14.9,-13.85),(-14.5,-13.7),(-14.0,-13.8),(-18.5,-13.6),(-17.9,-13.75),(-17.4,-13.7),(-16.6,-14.05),(-16.0,-14.15),(-15.5,-14.15),(-15.2,-14.4),(-14.8,-14.3),(-14.3,-14.0),(-13.6,-14.15),(-13.2,-14.0),(-18.1,-14.0),(-17.6,-14.2),(-17.8,-14.05),(-17.4,-14.0),(-17.0,-14.0),(-16.7,-14.25),(-16.2,-14.3),(-15.8,-14.4),(-14.6,-14.1),(-14.0,-14.0),(-17.9,-14.3),(-17.7,-14.4),(-17.1,-14.2),(-16.9,-14.5),(-16.4,-14.45),(-16.0,-14.6),(-15.6,-14.55),(-15.2,-14.7),(-15.0,-14.5),(-17.6,-14.6),(-17.2,-14.7),(-16.6,-14.7),(-16.3,-14.75),(-15.9,-14.85),(-15.6,-14.95),(-15.25,-14.85),(-14.2,-14.7),(-13.8,-14.7),(-13.1,-14.65),(-17.5,-14.9),(-17.1,-15.0),(-16.7,-15.0),(-16.1,-15.0),(-15.6,-15.2),(-15.2,-15.1),(-14.7,-15.05),(-14.4,-15.05),(-16.1,-15.25),(-15.8,-15.4),(-16.6,-15.3),(-17.0,-15.1),(-17.0,-15.4),(-16.8,-15.5),(-16.4,-15.45),(-15.4,-15.45),(-15.8,-15.65),(-15.1,-15.6),(-15.4,-15.65),(-14.7,-15.6),(-15.9,-15.95),(-15.6,-16.1),(-15.2,-15.9),(-14.9,-15.9),(-15.7,-16.4),(-15.3,-16.25),(-16.0,-16.1),(-15.5,-16.5),(-15.4,-16.15),(-14.8,-16.3),(-14.0,-16.3),(-13.8,-16.55),(-15.1,-16.45),(-15.4,-16.9),(-15.45,-16.1),(-13.8,-16.4),(-14.4,-16.3),(-13.8,-17.0),(-14.4,-17.3),(-14.1,-17.4),(-14.0,-17.3),(-13.9,-17.3),(-13.95,-17.6),(-13.9,-17.7),(-13.8,-17.9),(-13.7,-17.85),(-13.4,-18.2),(-12.2,-18.55),(-11.8,-18.9),(-11.8,-19.3),(-11.8,-19.8),(-11.7,-19.85),(-11.3,-19.7),(-12.6,-18.2),(-11.6,-19.1),(-11.2,-19.9),
(-11.0,-13.6),(-11.1,-13.3),(-11.3,-13.8),(-11.1,-13.95),(-12.4,-13.9),(-12.4,-14.05),(-11.0,-14.0),(-0.9,-14.6),(-11.9,-14.15),(-10.9,-14.35),(-0.9,-11.0),(-0.55,-10.3),(-0.25,-10.3),(-0.05,-10.3),(-0.3,-10.4),(0.15,-10.3),(-0.65,-6.75),(-0.65,-6.7),(-0.5,-7.3),(0.1,-6.8),(-1.1,-7.25),(-0.5,-7.0),(-3.8,-7.9),(-0.65,-8.15),(0.56,-8.0),(-2.3,-2.4),(-2.75,2.5),(-2.7,2.4),(-2.65,2.6),(-2.6,2.45),(-2.55,2.55)]
c9 = [(18.5,8.35),(19.0,8.15),(19.4,8.1),(19.8,8.0),(19.1,7.95),(19.6,7.8),(19.9,7.7),(19.5,7.65),(19.9,7.65),(20.0,7.6),(19.6,7.4),(20.2,7.55),(20.5,7.55),(20.3,7.3),(20.5,7.4),(20.9,7.4),(19.1,7.0),(19.5,7.05),(20.0,7.1),(20.2,7.0),(20.5,6.9),(20.8,7.0),(21.0,6.95),(21.2,6.9),(21.6,6.9),(21.0,6.75),(21.3,6.6),(21.6,6.6),(19.1,6.7),(19.5,6.6),(20.0,6.65),(20.4,6.65),(20.7,6.6),(21.0,6.6),(21.3,6.55),(19.4,6.4),(19.6,6.3),(19.8,6.25),(19.7,6.3),(20.85,6.5),(21.0,6.45),(21.5,6.35),(21.1,6.2),(21.3,6.0),(21.5,5.95),(21.4,5.8),(21.55,5.7),(21.8,5.9),(21.8,5.75),(22.1,5.45),(21.0,5.85),(21.2,5.75),(20.8,5.8),(22.0,5.6),(22.25,5.5),(22.5,5.45),(22.8,5.4),(23.0,5.2),(22.2,5.1),(22.5,5.25),(22.6,5.2),(22.9,5.0),(23.2,4.95),(23.2,5.05),(23.5,4.85),(23.0,4.75),(23.1,4.65),(23.3,4.6),(23.4,4.5),(23.9,4.65),(24.2,4.6),(24.6,4.55),(24.0,4.3),(24.5,4.3),(24.9,4.4),(23.3,4.1),(23.55,3.9),(24.0,3.95),(24.3,3.95),(23.3,3.7),(23.65,3.75),(24.3,3.65),(24.6,3.75),(24.8,3.6),(24.4,3.3),(24.8,3.25),(23.35,3.55),(23.4,3.6),(23.7,3.5),(24.1,3.4),(23.9,3.1),(24.2,3.0),(24.0,2.95),(24.6,2.9),(23.4,2.5),(23.7,2.45),(23.75,3.05),(24.1,2.75),(24.35,2.75),(24.1,2.3),(24.4,2.2),(24.5,1.75),(24.7,1.65),(24.7,2.15),(25.1,2.3),(25.1,1.8),(24.5,5.8),(24.15,6.5),(24.0,6.8),(23.1,6.8),(23.1,6.6),(23.0,6.4),(23.25,6.25),(22.9,6.2),(23.3,6.0),(23.5,6.3),(23.8,6.4),(23.9,6.2),(24.0,5.95),(24.3,5.9),(24.4,5.6),(24.8,5.8),(24.4,5.95),(24.5,6.1),(24.0,5.7),(23.4,5.7),(23.6,5.6),(23.5,5.5),(24.0,5.45),(24.5,5.4),(24.45,5.2),(23.3,5.35),(23.6,5.1),(24.2,5.0),(24.1,4.9),(24.6,4.7),(25.4,3.9),(25.0,4.05),(25.5,4.0),(25.8,3.95),(26.3,4.05),(25.9,3.8),(25.0,3.7),(25.3,3.65),(25.5,3.45),(25.0,3.2),(25.3,3.3),(25.1,3.0),(24.5,2.9),(25.05,3.15),(26.05,3.2),(25.6,2.95),(25.85,2.9),(26.0,2.8),(24.35,1.7),(24.9,1.3),(25.0,1.2),(25.15,1.2),(24.9,1.05),(25.3,1.25),(25.45,1.3),(25.0,1.35),(26.2,2.0),(26.1,1.8),(26.9,1.75),(25.85,1.3),(26.1,0.95)]
c8 = [(29.2,4.1),(29.4,4.0),(29.5,3.9),(29.3,3.6),(29.6,3.6),(29.7,3.2),(29.1,3.3),(30.0,2.9),(29.2,2.9),(28.0,3.4),(28.2,3.5),(28.6,3.4),(28.4,3.2),(28.7,3.1),(29.5,2.8),(29.9,2.6),(30.1,2.6),(29.2,2.5),(29.6,2.4),(30.2,2.4),(29.0,2.2),(29.4,2.1),(29.9,2.1),(30.3,2.0),(28.5,2.3),(28.8,2.0),(29.1,1.8),(28.3,2.4),(28.1,2.3),(28.4,2.1),(29.6,1.9),(30.0,1.75),(30.45,1.8),(30.7,1.7),(28.0,2.0),(28.45,1.75),(28.9,1.6),(29.3,1.55),(29.7,1.45),(30.2,1.5),(30.55,1.45),(27.6,1.5),(28.1,1.5),(28.7,1.35),(29.1,1.25),(29.5,1.1),(29.9,1.05),(30.4,1.2),(30.6,1.05),(27.9,1.3),(28.35,1.1),(28.85,1.0),(29.3,0.95),(30.0,0.65),(30.55,0.7),(27.7,0.65),(28.1,0.55),(28.7,0.55),(29.1,0.5),(30.2,0.35),(30.6,0.4),(29.8,0.5),(29.45,0.3),(30.0,0.2),(29.9,-0.0),(30.45,0.1),(30.8,0.15),(28.0,0.05),(28.6,0.15),(29.0,-0.05),(29.3,-0.25),(29.6,-0.05),(30.3,-0.15),(30.7,-0.1),(30.95,-0.25),(29.0,-0.5),(29.5,-0.5),(30.0,-0.45),(30.4,-0.55),(30.7,-0.45),(28.6,-0.5),(27.9,-0.5),(29.7,-0.8),(30.1,-0.85),(30.5,-0.8),(30.9,-0.75),(28.2,-0.95),(28.7,-0.9),(29.2,-1.0),(29.75,-1.2),(30.2,-1.25),(30.7,-1.1),(31.0,-1.0),(28.1,-1.25),(28.5,-1.25),(29.0,-1.35),(29.5,-1.4),(30.05,-1.5),(30.4,-1.5),(30.9,-1.45),(31.05,-1.5),(27.9,-1.6),(28.3,-1.65),(28.7,-1.7),(29.25,-1.65),(29.8,-1.75),(30.2,-1.85),(30.6,-1.8),(30.95,-1.85),(27.9,-1.95),(28.2,-1.85),(29.1,-1.95),(29.5,-2.0),(30.0,-2.1),(30.5,-2.05),(27.95,-2.25),(28.25,-2.35),(28.7,-2.4),(29.2,-2.3),(29.65,-2.35),(30.1,-2.4),(30.6,-2.3),(31.0,-2.25),(31.2,-2.2),(28.45,-2.65),(28.85,-2.6),(29.35,-2.65),(29.9,-2.65),(30.35,-2.6),(30.85,-2.6),(31.1,-2.5),(29.3,-2.95),(29.8,-3.0),(30.2,-2.9),(30.8,-2.95),(31.0,-2.85),(28.2,-3.05),(29.1,-3.3),(29.6,-3.35),(30.0,-3.3),(30.4,-3.25),(30.8,-3.15),(31.0,-3.2),(28.9,-3.55),(29.4,-3.65),(29.8,-3.6),(30.25,-3.7),(30.7,-3.6),(30.75,-3.25),(28.6,-3.9),(29.0,-3.85),(29.6,-4.0),(30.0,-4.0),(30.4,-3.95),(30.9,-3.9),(28.45,-4.15),(29.2,-4.35),(29.55,-4.25),(29.95,-4.35),(30.3,-4.3),(30.75,-4.25),(31.0,-4.35),(28.5,-4.45),(28.9,-4.5),(29.3,-4.6),(29.6,-4.65),(30.1,-4.6),(30.45,-4.5),(28.5,-4.8),(28.75,-4.9),(29.15,-5.0),(29.6,-5.0),(30.05,-4.95),(28.5,-5.05),(28.85,-5.2),(29.1,-5.35),(29.5,-5.35),(30.0,-5.3),(30.5,-5.05),(28.4,-5.6),(28.9,-5.5),(29.2,-5.7),(29.6,-5.55),(30.05,-5.55),(30.35,-5.35),(28.4,-5.85),(28.95,-5.85),(29.3,-5.9),(29.75,-5.9),(30.2,-5.85),(28.5,-6.25),(28.75,-6.2),(29.1,-6.3),(29.4,-6.25),(29.9,-6.25),(28.85,-6.55),(29.2,-6.5),(29.5,-6.45),(29.0,-6.7),(29.3,-6.75),(29.2,-7.0),
(29.8,3.4),(29.4,3.2),(29.85,2.35),(29.25,1.2),(29.95,1.3),(30.15,1.0),(29.6,0.75),(30.3,0.75),(29.85,0.15),(30.15,-0.15),(29.25,0.2),(28.4,0.4),(29.95,-1.0),(30.3,-1.05),(29.5,-1.05),(30.55,-1.35),(29.55,-1.7),(30.45,-1.6),(29.75,-2.2),(30.3,-2.15),(30.85,-2.05),(30.15,-2.7),(30.55,-2.7),(29.5,-3.05),(30.55,-3.05),(29.8,-3.3),(30.15,-3.55),(29.2,-3.75),(29.75,-3.85),(30.25,-4.05),(29.2,-4.05),(29.95,-4.65),(29.4,-4.85),(29.85,-5.15),(29.35,-5.6),(29.55,-6.05),(29.65,-4.45),(30.7,-3.8),(30.9,-1.25),
(25.5,4.05),(25.6,3.8),(26.0,3.55),(26.1,3.6),(26.45,3.6),(26.9,3.5),(26.3,3.3),(26.7,3.25),(27.1,3.3),(27.3,3.2),(27.25,3.0),(26.5,3.0),(26.65,2.75),(27.2,2.75),(27.4,2.75),(27.3,2.55),(26.0,2.85),(25.95,2.65),(26.25,2.5),(26.65,2.35),(26.8,2.4),(27.1,2.3),(25.75,2.3),(26.1,2.0),(26.5,2.0),(26.9,2.0),(27.4,2.0),(26.0,1.6),(26.7,1.65),(27.1,1.65),(27.8,1.8),(26.2,1.35),(26.6,1.5),(26.8,1.4),(26.9,1.3),(25.9,1.4),(26.3,1.1),(26.95,0.95),(26.85,0.85),(27.0,0.6),(27.4,0.6),(27.9,0.35),(27.6,0.85),(26.6,0.6),(26.2,0.45),(26.5,0.4),(26.75,0.2),(27.05,0.1),(27.4,0.2),(27.55,0.0),(26.4,0.0),(26.6,-0.0),(26.65,-0.2),(27.1,-0.3),(26.8,-0.35),(27.45,-0.35),(26.1,-0.0),(26.05,-0.6),(26.4,-0.35),(26.6,-0.5),(26.9,-0.55),(27.7,-0.6),(27.85,-0.7),(27.0,-0.3),(26.3,-0.5),(27.2,-0.5),(26.4,-0.6),(26.2,-1.0),(26.5,-1.15),(26.9,-1.0),(27.3,-1.0),(27.5,-1.05),(26.15,-1.3),(26.0,-1.15),(27.75,-1.1),(28.1,-1.1)]
c4 = [(-7.69,-2.05),(-6.35,-2.0),(-6.29,-2.12),(-6.83,-2.48),(-6.16,-2.57),(-7.11,-2.87),(-7.53,-3.03),(-6.51,-3.0),(-5.7,-2.95),(-4.84,-2.88),(-7.3,-3.14),(-5.73,-3.16),(-6.82,-3.27),(-4.59,-3.14),(-7.36,-3.34),(-6.15,-3.32),(-8.28,-3.49),(-6.05,-3.45),(-5.93,-3.6),(-6.2,-3.68),(-5.66,-3.76),(-5.9,-3.75),(-5.98,-3.91),(-4.4,-3.89),(-4.79,-4.0),(-4.56,-4.13),(-7.53,-4.18),(-6.4,-4.11),(-5.96,-4.53),(-5.35,-4.64),(-5.26,-4.76),(-4.96,-4.96),(-7.07,-5.1),(-6.38,-5.36),(-8.06,-5.47),(-5.38,-5.48),(-8.27,-6.0),(-7.52,-6.05),(-6.99,-6.2),(-5.26,-6.09),(-6.55,-6.32),(-5.54,-6.32),(-7.33,-6.24),(-6.07,-6.34),(1.63,-3.58),(3.23,-4.98),(3.42,-5.02),(4.94,-6.4),(5.05,-6.55),(4.8,-6.63),(4.46,-6.9),(4.01,-7.06),(-2.81,5.03),(-13.43,1.14),(-13.12,0.94),(-14.47,0.45),(-14.07,0.52),(-14.0,0.25),(-13.22,0.34),(-12.72,0.52),(-12.17,0.42),(-11.77,0.19),(-12.77,0.15),(-14.64,-0.1),(-14.12,-0.05),(-13.9,-0.25),(-12.43,-2.55),(-11.58,-2.14),
(-8.6,-6.55),(-7.7,-6.6),(-7.35,-6.5),(-6.55,-6.6),(-6.05,-6.65),(-5.6,-6.7),(-5.35,-6.85),(-7.2,-6.85),(-6.8,-6.9),(-6.3,-6.95),(-8.45,-7.1),(-7.85,-7.05),(-7.55,-7.2),(-6.45,-7.2),(-5.7,-7.15),(-4.9,-6.95),(-4.2,-7.2),(-3.55,-6.85),(-3.2,-6.9),(-2.9,-7.0),(-2.45,-7.15),(-1.9,-7.0),(-1.45,-6.75),(-1.2,-7.15),(-3.0,-7.2),(-3.55,-7.35),(-3.1,-7.55),(-2.6,-7.45),(-2.2,-7.6),(-1.7,-7.5),(-9.85,-7.05),(-9.45,-7.1),(-9.15,-7.3),(-8.25,-7.5),(-7.7,-7.45),(-6.95,-7.4),(-6.5,-7.5),(-5.9,-7.45),(-5.3,-7.55),(-4.85,-7.4),(-4.1,-7.45),(-3.85,-7.7),(-2.85,-7.8),(-2.15,-7.95),(-10.2,-7.35),(-9.8,-7.5),(-9.4,-7.65),(-8.8,-7.65),(-8.1,-7.8),(-7.4,-7.75),(-6.85,-7.75),(-6.15,-7.7),(-5.5,-7.8),(-4.85,-7.75),(-3.8,-8.05),(-3.2,-8.05),(-2.1,-8.3),(-1.05,-7.8),(-10.05,-7.85),(-9.6,-8.05),(-8.9,-8.0),(-8.55,-7.95),(-7.75,-8.0),(-7.0,-8.05),(-6.35,-7.95),(-5.85,-8.0),(-5.2,-8.1),(-4.6,-8.0),(-2.95,-8.4),(-2.5,-8.35),(-9.7,-8.35),(-9.0,-8.35),(-8.4,-8.3),(-7.35,-8.4),(-6.55,-8.3),(-5.8,-8.35),(-4.95,-8.4),(-4.25,-8.4),(-2.7,-8.6),(-9.5,-8.7),(-8.85,-8.6),(-8.1,-8.7),(-7.5,-8.6),(-6.6,-8.65),(-6.0,-8.65),(-5.35,-8.7),(-4.7,-8.8),(-3.4,-8.75),(-2.9,-8.85),(-9.6,-9.05),(-8.8,-9.0),(-8.2,-9.0),(-7.7,-9.0),(-7.1,-8.95),(-6.3,-9.05),(-5.6,-9.05),(-5.1,-9.1),(-4.4,-9.1),(-3.7,-9.05),(-3.1,-9.0),(-2.5,-9.2),(-11.3,-8.8),(-10.75,-8.85),(-10.35,-9.2),(-9.3,-9.3),(-8.8,-9.3),(-8.2,-9.4),(-7.55,-9.35),(-7.0,-9.35),(-6.3,-9.4),(-5.6,-9.35),(-4.9,-9.45),(-4.4,-9.5),(-3.8,-9.35),(-3.35,-9.45),(-2.3,-9.55),(-1.3,-9.9),(-11.3,-9.6),(-10.35,-9.45),(-9.8,-9.5),(-9.5,-9.85),(-9.0,-9.65),(-8.2,-9.7),(-7.6,-9.75),(-6.9,-9.75),(-6.2,-9.75),(-5.65,-9.8),(-5.0,-9.8),(-4.3,-9.75),(-3.5,-9.85),(-3.0,-9.85),(-2.7,-9.9),(-2.15,-9.9),(-10.5,-9.95),(-10.0,-10.0),(-9.55,-10.2),(-8.8,-10.05),(-7.5,-10.1),(-7.1,-10.2),(-6.6,-10.05),(-5.9,-10.1),(-5.2,-10.1),(-4.55,-10.05),(-3.9,-10.1),(-3.4,-10.2),(-2.4,-10.15),(-1.9,-10.2),(-1.4,-10.3),(-1.1,-10.25),(-0.7,-10.0),(-10.0,-10.4),(-9.55,-10.5),(-8.95,-10.45),(-8.9,-10.9),(-7.55,-10.45),(-7.35,-10.75),(-6.8,-10.5),(-6.5,-10.85),(-5.95,-10.55),(-5.3,-10.55),(-4.7,-10.55),(-4.1,-10.5),(-3.5,-10.55),(-3.0,-10.5),(-2.35,-10.7),(-1.85,-10.65),(-1.3,-10.7),(-0.9,-10.85),(-0.5,-10.6),(-11.3,-10.6),(-10.75,-10.7),(-10.2,-10.9),(-9.7,-11.0),(-9.45,-11.3),(-9.2,-11.2),(-8.3,-11.3),(-7.2,-11.05),(-6.6,-11.0),(-6.4,-11.35),(-5.7,-11.05),(-5.15,-11.0),(-4.5,-11.1),(-3.9,-11.05),(-3.2,-11.05),(-2.8,-11.15),(-2.2,-11.15),(-1.7,-11.2),(-1.05,-11.15),(-0.55,-11.1),(-0.2,-11.2),(-11.5,-11.0),(-11.2,-11.4),(-10.7,-11.4),(-10.0,-11.5),(-9.7,-11.7),(-9.4,-11.65),(-8.0,-11.6),(-7.6,-11.85),(-7.3,-11.6),(-6.0,-11.65),(-5.4,-11.6),(-4.8,-11.7),(-4.2,-11.6),(-3.6,-11.55),(-3.0,-11.6),(-2.45,-11.7),(-1.85,-11.6),(-1.3,-11.7),(-0.85,-11.55),(-0.5,-11.65),(-12.4,-11.6),(-12.65,-12.0),(-12.1,-12.0),(-11.9,-12.2),(-9.8,-12.1),(-9.2,-12.1),(-8.5,-12.3),(-8.0,-12.2),(-7.3,-12.25),(-6.7,-12.3),(-6.1,-12.0),(-5.5,-12.2),(-5.0,-12.1),(-4.35,-12.1),(-3.75,-12.1),(-3.2,-12.1),(-2.55,-12.2),(-1.95,-12.1),(-1.3,-12.15),(-0.8,-12.05),(-11.5,-12.7),(-12.0,-12.75),(-11.15,-12.45),(-10.85,-12.9),(-10.4,-12.75),(-9.3,-12.6),(-8.6,-12.85),(-7.9,-12.7),(-7.2,-12.9),(-6.5,-12.65),(-5.9,-12.85),(-5.2,-12.6),(-4.6,-12.7),(-4.0,-12.6),(-3.35,-12.7),(-2.7,-12.75),(-2.0,-12.7),(-1.4,-12.8),(-0.9,-12.65),(-0.2,-12.7),(-11.3,-13.15),(-11.65,-13.0),(-10.2,-13.3),(-9.7,-13.3),(-9.1,-13.35),(-8.5,-13.35),(-7.9,-13.2),(-7.2,-13.4),(-6.6,-13.3),(-5.7,-13.3),(-5.05,-13.3),(-4.4,-13.2),(-3.8,-13.3),(-3.2,-13.25),(-2.5,-13.3),(-1.9,-13.25),(-1.2,-13.3),(-0.6,-13.3),(-0.15,-13.4),(-13.0,-13.6),(-12.7,-13.7),(-12.05,-13.75),(-11.75,-13.5),(-10.0,-13.8),(-9.5,-13.7),(-9.0,-13.85),(-8.3,-13.85),(-7.6,-13.75),(-7.0,-13.9),(-6.3,-13.7),(-5.6,-13.85),(-5.0,-13.9),(-4.3,-13.8),(-3.6,-13.85),(-3.0,-13.8),(-2.3,-13.85),(-1.7,-13.8),(-1.0,-13.9),(-0.4,-13.8),(-13.1,-14.1),(-12.6,-14.15),(-12.1,-14.5),(-11.4,-14.4),(-10.5,-14.3),(-9.9,-14.3),(-9.3,-14.4),(-8.65,-14.4),(-8.0,-14.35),(-7.35,-14.3),(-6.7,-14.35),(-6.1,-14.25),(-5.5,-14.4),(-4.8,-14.3),(-4.2,-14.35),(-3.5,-14.4),(-2.8,-14.3),(-2.2,-14.45),(-1.5,-14.5),(-0.85,-14.3),(-13.0,-14.9),(-12.6,-15.0),(-12.0,-15.0),(-11.25,-14.95),(-10.6,-14.85),(-10.0,-14.85),(-9.5,-14.9),(-8.8,-15.0),(-8.1,-14.85),(-7.5,-15.05),(-6.85,-14.85),(-6.25,-14.9),(-5.6,-15.0),(-5.0,-14.85),(-4.3,-14.95),(-3.7,-14.85),(-3.0,-14.95),(-2.4,-15.05),(-1.8,-14.95),(-1.1,-15.1),(-0.5,-15.2),(0.0,-15.1),(-13.0,-15.5),(-12.45,-15.5),(-11.8,-15.55),(-11.2,-15.55),(-10.5,-15.5),(-9.8,-15.55),(-9.3,-15.6),(-8.5,-15.5),(-7.9,-15.6),(-7.3,-15.55),(-6.65,-15.45),(-6.0,-15.55),(-5.45,-15.6),(-4.8,-15.5),(-4.2,-15.55),(-3.5,-15.5),(-2.9,-15.55),(-2.2,-15.55),(-1.6,-15.5),(-0.8,-15.7),(-0.45,-15.8),(0.5,-15.65),(-13.3,-16.3),(-12.9,-16.2),(-12.4,-16.3),(-11.6,-16.1),(-11.05,-16.3),(-10.3,-16.05),(-9.8,-16.3),(-9.1,-16.2),(-7.8,-16.25),(-7.2,-16.15),(-6.6,-16.3),(-6.0,-16.2),(-5.4,-16.15),(-4.8,-16.25),(-4.2,-16.2),(-3.5,-16.1),(-2.9,-16.3),(-2.3,-16.2),(-1.7,-16.25),(-0.9,-16.4),(-0.15,-16.25),(0.1,-16.6),(0.65,-16.5),(-14.0,-16.55),(-13.4,-16.7),(-13.0,-16.85),(-12.6,-16.85),(-11.0,-16.85),(-10.3,-16.75),(-9.5,-16.8),(-8.9,-16.85),(-8.3,-16.85),(-7.5,-16.8),(-6.9,-16.7),(-6.2,-16.85),(-5.5,-16.75),(-4.8,-16.8),(-4.2,-16.85),(-3.6,-16.75),(-2.9,-16.85),(-2.3,-16.8),(-1.6,-17.0),(-1.0,-16.9),(-11.85,-17.1),(-11.0,-17.35),(-10.4,-17.4),(-9.75,-17.2),(-9.2,-17.3),(-8.7,-17.4),(-8.0,-17.2),(-7.35,-17.35),(-6.8,-17.2),(-6.3,-17.45),(-5.6,-17.3),(-5.0,-17.4),(-4.3,-17.35),(-3.7,-17.35),(-3.1,-17.3),(-2.55,-17.4),(-1.8,-17.4),(-1.4,-17.5),(-0.6,-17.3),(0.5,-17.35),(0.75,-17.4),(-13.1,-17.5),(-12.9,-17.85),(-12.2,-17.9),(-11.65,-17.6),(-11.1,-17.9),(-10.6,-17.9),(-10.0,-17.8),(-9.4,-17.9),(-8.9,-17.8),(-8.3,-17.9),(-7.7,-17.9),(-7.1,-17.8),(-6.5,-17.9),(-5.9,-17.75),(-5.2,-17.95),(-4.7,-17.85),(-3.9,-17.85),(-3.3,-17.75),(-2.6,-17.8),(-1.8,-18.0),(-1.3,-17.85),(-0.8,-17.8),(-0.2,-17.85),(-12.6,-18.2),(-12.1,-18.3),(-11.4,-18.4),(-10.9,-18.35),(-10.1,-18.4),(-9.5,-18.35),(-8.7,-18.4),(-8.2,-18.3),(-7.6,-18.35),(-7.0,-18.4),(-6.4,-18.3),(-5.8,-18.4),(-5.2,-18.35),(-4.6,-18.4),(-3.9,-18.3),(-3.2,-18.3),(-2.5,-18.35),(-1.6,-18.35),(-1.2,-18.35),(-0.6,-18.5),(-12.5,-18.85),(-11.95,-18.9),(-11.3,-18.85),(-10.7,-18.75),(-10.1,-18.85),(-9.4,-18.9),(-8.9,-18.9),(-8.3,-18.8),(-7.7,-18.85),(-7.1,-18.9),(-6.45,-18.85),(-5.8,-18.8),(-5.15,-18.85),(-4.6,-18.9),(-3.9,-18.85),(-3.2,-18.9),(-2.6,-18.85),(-1.4,-18.9),(-0.4,-18.9),(-11.7,-19.2),(-11.1,-19.3),(-10.5,-19.35),(-9.95,-19.3),(-9.3,-19.4),(-8.75,-19.3),(-8.1,-19.35),(-7.5,-19.35),(-6.9,-19.3),(-6.2,-19.4),(-5.6,-19.3),(-5.0,-19.35),(-4.4,-19.4),(-3.7,-19.25),(-3.0,-19.4),(-2.4,-19.3),(-1.7,-19.35),(-1.1,-19.4),(-11.7,-19.75),(-11.2,-19.8),(-10.6,-19.75),(-10.2,-19.85),(-9.5,-19.8),(-9.0,-19.85),(-8.4,-19.8),(-7.85,-19.75),(-7.3,-19.8),(-6.6,-19.85),(-6.0,-19.8),(-5.3,-19.85),(-4.7,-19.8),(-4.2,-19.85),(-3.7,-19.85),(-2.7,-19.9),(-2.0,-19.75),(-0.7,-19.7),(-0.1,-19.8),(0.3,-19.85),(-11.0,-20.2),(-10.4,-20.25),(-9.9,-20.2),(-9.3,-20.25),(-8.7,-20.3),(-8.1,-20.2),(-7.6,-20.25),(-6.9,-20.3),(-6.3,-20.25),(-5.7,-20.3),(-5.2,-20.2),(-4.55,-20.3),(-4.0,-20.2),(-3.4,-20.3),(-2.7,-20.2),(-2.05,-20.25),(-0.3,-20.35),(0.0,-20.15),(0.3,-20.25),(0.55,-20.4),(-10.8,-20.7),(-10.3,-20.65),(-9.8,-20.7),(-9.1,-20.7),(-8.6,-20.75),(-7.9,-20.7),(-7.4,-20.6),(-6.7,-20.7),(-6.1,-20.75),(-5.55,-20.75),(-5.0,-20.7),(-4.3,-20.7),(-3.6,-20.8),(-2.95,-20.8),(-2.2,-20.65),(-1.6,-20.8),(-0.85,-20.75),(-0.15,-20.45),(0.45,-20.7),(-10.6,-21.1),(-10.1,-21.15),(-9.6,-21.1),(-9.0,-21.15),(-8.5,-21.1),(-8.0,-21.15),(-7.3,-21.1),(-6.6,-21.15),(-6.1,-21.2),(-5.5,-21.15),(-4.85,-21.2),(-4.2,-21.15),(-3.8,-21.3),(-3.0,-21.2),(-1.5,-21.4),(-0.9,-21.3),(-0.5,-21.4),(0.4,-21.2),(-10.7,-21.5),(-10.3,-21.6),(-9.7,-21.55),(-9.2,-21.6),(-8.6,-21.55),(-7.7,-21.6),(-7.0,-21.55),(-6.3,-21.6),(-5.6,-21.6),(-4.9,-21.6),(-4.2,-21.7),(-3.5,-21.6),(-3.0,-21.75),(-1.6,-21.7),(-1.2,-21.85),(-0.9,-21.75),(-0.3,-21.8),(0.0,-21.9),(0.5,-21.9),(-10.3,-21.95),(-9.8,-21.9),(-9.3,-22.0),(-8.8,-21.95),(-7.6,-21.95),(-6.8,-21.95),(-5.8,-21.95),(-5.0,-21.9),(-4.6,-22.0),(-4.2,-22.0),(-9.9,-22.25),(-9.5,-22.3),(-9.1,-22.2),(-9.6,-22.45),(-9.2,-22.45),(-8.9,-22.4),(-8.5,-22.45),(-3.4,-22.0),(-2.2,-21.7),
(-11.29,-9.16),(-11.25,-9.57),(-10.73,-8.86),(-10.37,-8.81),(-10.32,-9.27),(-10.54,-9.55),(-10.77,-9.88),(-10.37,-9.82),(-10.11,-9.44),(-9.64,-10.02),(-10.03,-9.99),(-9.94,-10.32),(-9.37,-10.65),(-11.29,-10.65),(-10.67,-10.73),(-10.2,-11.04),(-9.68,-10.9),(-10.72,-11.09),(-11.32,-11.12),(-10.49,-11.33),(-9.77,-11.23),(-9.13,-11.4),(-9.68,-11.64),(-10.03,-11.86),(-9.56,-11.97),(-12.38,-11.73),(-12.74,-12.01),(-11.53,-12.43),(-10.23,-12.38),(-11.58,-12.85),(-11.06,-12.72),(-10.63,-12.91),(-9.63,-12.85),(-9.16,-12.47),(-8.73,-12.8),(-8.3,-11.75),(-7.9,-11.53),(-7.43,-11.86),(-7.17,-12.19),(-8.3,-12.25),(-7.83,-12.41),(-6.77,-12.58),(-6.39,-12.36),(-5.79,-12.52),(-5.23,-12.52),(-4.66,-11.92),(-4.4,-11.81),(-3.88,-11.7),
(-10.7,-19.05),(-10.25,-19.55),(-10.85,-19.5),(-9.7,-19.55),(-9.15,-19.6),(-8.55,-19.55),(-10.45,-20.0),(-9.75,-20.0),(-9.15,-20.0),(-8.6,-20.05),(-8.0,-20.0),(-10.6,-20.45),(-10.1,-20.45),(-9.5,-20.45),(-8.95,-20.5),(-8.35,-20.45),(-7.75,-20.45),(-10.35,-20.9),(-9.85,-20.9),(-9.3,-20.95),(-8.75,-20.9),(-8.25,-20.95),(-10.5,-21.3),(-9.9,-21.35),(-9.35,-21.35),(-8.8,-21.35),(-8.2,-21.4),(-7.55,-21.35),(-6.85,-21.35),(-10.05,-21.75),(-9.45,-21.8),(-8.95,-21.75),(-8.3,-21.75),(-9.7,-22.1),(-9.3,-22.15),(-8.75,-22.2),(-10.2,-18.1),(-9.7,-18.6),(-9.2,-18.15),(-8.6,-18.6),(-8.05,-18.05),(-7.35,-18.6),(-6.75,-18.1),(-6.1,-18.6),(-9.95,-17.55),(-9.45,-17.6),(-8.45,-17.6),(-7.75,-17.55),(-7.1,-17.5),(-6.55,-17.65),(-5.3,-17.65),(-9.7,-16.55),(-8.65,-16.6),(-7.95,-16.6),(-7.25,-16.5),(-6.6,-16.65),(-5.85,-16.5),(-9.55,-16.05),(-8.85,-15.8),(-8.1,-16.0),(-7.55,-16.0),(-7.0,-15.85),(-6.3,-15.8),(-5.7,-15.9),(-4.5,-15.85),(-3.85,-15.8),(-3.2,-15.85),(-9.15,-14.9),(-8.45,-15.1),(-7.8,-15.25),(-7.15,-15.2),(-6.55,-15.2),(-5.9,-15.25),(-5.25,-15.2),(-4.6,-15.25),(-3.95,-15.15),(-3.35,-15.2),(-2.7,-15.25),(-2.05,-15.25),(-1.4,-15.3),(-9.7,-14.55),(-8.95,-14.7),(-8.3,-14.55),(-7.7,-14.6),(-7.05,-14.6),(-6.45,-14.6),(-5.8,-14.65),(-5.2,-14.6),(-4.5,-14.65),(-3.85,-14.6),(-3.15,-14.65),(-2.5,-14.7),(-1.85,-14.7),(-1.2,-14.75),(-8.75,-14.05),(-8.0,-14.05),(-7.3,-14.1),(-6.7,-14.0),(-6.0,-14.05),(-5.3,-14.1),(-4.65,-14.05),(-3.95,-14.1),(-3.25,-14.05),(-2.6,-14.1),(-2.0,-14.1),(-1.35,-14.1),(-0.7,-14.1),(-5.3,-13.55),(-4.65,-13.55),(-3.95,-13.55),(-3.35,-13.55),(-2.75,-13.55),(-2.05,-13.55),(-1.45,-13.6),(-0.8,-13.6),(-4.2,-12.85),(-3.55,-12.95),(-2.95,-12.95),(-2.25,-12.95),(-1.65,-12.95),(-1.1,-13.0),(-3.45,-12.35),(-2.85,-12.4),(-2.25,-12.4),(-1.6,-12.4),(-1.0,-12.35),(-0.5,-12.35),(-3.3,-11.8),(-2.7,-11.9),(-2.15,-11.9),(-1.55,-11.9),(-1.0,-11.8),(-2.5,-11.4),(-1.95,-11.4),(-1.4,-11.45),(-0.75,-11.35),(-3.5,-11.3),(-4.15,-11.35),(-4.85,-11.35),(-5.45,-11.3),(-2.6,-10.95),(-1.6,-10.95),(-1.1,-10.95),(-7.5,-8.25),(-6.85,-8.25),(-6.2,-8.55),(-5.6,-8.6),(-4.65,-8.45),(-7.9,-8.4),(-8.5,-8.65),(-7.3,-9.1),(-6.7,-9.2),(-5.9,-9.2),(-7.85,-9.55),(-6.55,-9.6),(-5.3,-9.65),(-4.65,-9.3),(-3.95,-9.6),(-3.5,-9.15),(-3.1,-9.55),(-2.8,-9.3)]

clusters = ["7","12","5","1","3","2","10","11","6","9","8","4"]
members = [c7,c12,c5,c1,c3,c2,c10,c11,c6,c9,c8,c4]
legend_order = [str(i) for i in range(1,13)]
palette = {"1":"#E7298A","2":"#E41A1C","3":"#666666","4":"#FF7F00","5":"#4DAF4A","6":"#377EB8",
           "7":"#B67FB8","8":"#A65628","9":"#7FAFD4","10":"#B3DE69","11":"#D9D9D9","12":"#FFED6F"}
label_names = ["1","2","3","4","5","6","7","8","9","10","11","12"]
label_x = [5.6,-5.5,-11.8,-7.4,1.4,-15.4,10.7,28.5,24.2,-24.9,0.2,11.5]
label_y = [-2.6,17.1,7.4,-15.1,14.3,-13.0,23.9,-1.7,6.5,8.4,-21.0,26.9]

rows = []
for name, pts in zip(clusters, members):
    rows += [(x, y, name) for x, y in pts]
df = pd.DataFrame(rows, columns=["umap1","umap2","cluster"])

sns.set_theme(style="white")
plt.rcParams["font.family"] = ["Liberation Sans","DejaVu Sans"]
plt.rcParams["axes.unicode_minus"] = False
fig = plt.figure(figsize=(9,9), dpi=300)
ax = fig.add_axes([0.0497,0.0434,0.8546,0.9202])
sns.scatterplot(data=df, x="umap1", y="umap2", hue="cluster", hue_order=legend_order, palette=palette,
                s=14, edgecolor="#333333", linewidth=0.25, ax=ax)
for n, x, y in zip(label_names, label_x, label_y):
    ax.text(x, y, n, ha="center", va="center", fontsize=11.3, fontweight="bold", color="black")
ax.set_xlim(-28.74,33.9)
ax.set_ylim(-24.9,28.7)
ax.set_xticks([-20,-10,0,10,20,30])
ax.set_yticks([-20,-10,0,10,20])
ax.tick_params(axis="both", length=2.2, width=0.6, color="#333333", labelcolor="#4D4D4D", labelsize=6.9, pad=1.8,
               bottom=True, left=True)
for s in ["top","right"]:
    ax.spines[s].set_visible(False)
for s in ["left","bottom"]:
    ax.spines[s].set_color("black")
    ax.spines[s].set_linewidth(0.8)
ax.grid(False)
ax.set_xlabel("umap-Dim.1", fontsize=7.2, labelpad=4.5, color="black")
ax.set_ylabel("umap-Dim.2", fontsize=7.2, labelpad=3.3, color="black")
ax.set_title("leiden_clus", fontsize=13.6, pad=8.5, color="black")
h, l = ax.get_legend_handles_labels()
for hd in h:
    hd.set_markersize(4.5); hd.set_markeredgecolor("#555555"); hd.set_markeredgewidth(0.3)
ax.legend(h, l, title=None, frameon=False, loc="center left", bbox_to_anchor=(1.0165,0.5035), borderaxespad=0,
          fontsize=10.2, labelspacing=0.77, handletextpad=0.35, markerscale=1)
fig.savefig("out.png", dpi=300)
